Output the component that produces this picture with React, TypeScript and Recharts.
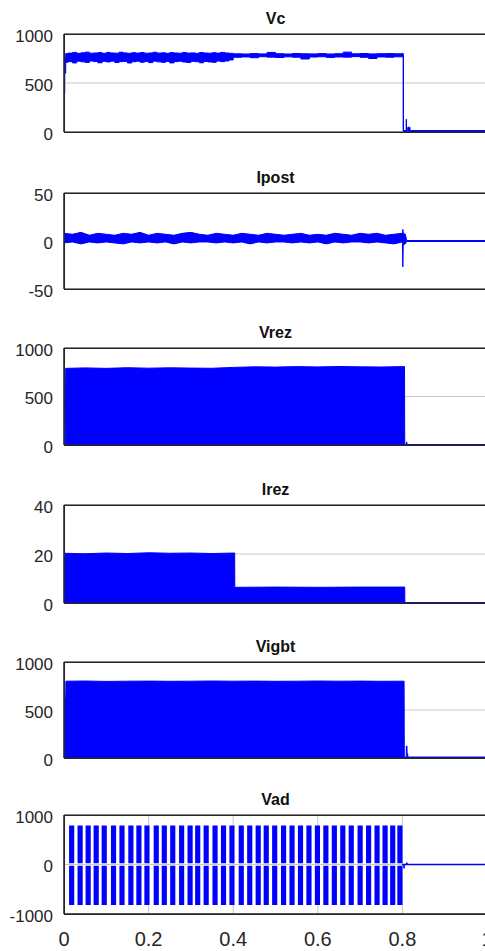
import React from "react";
import { ComposedChart, Area, Line, XAxis, YAxis, CartesianGrid } from "recharts";

const BLUE = "#0000ff";
const AXIS = "#262626";
const TXT = "#262626";
const GRID = "#c8c8c8";

const PLOT_L = 64;
const PLOT_W = 423;
const CHART_W = 500;

const xTicks = [0, 0.2, 0.4, 0.6, 0.8, 1];

// Vc — band (low / high)
const vcT = [
  0, 0.0015, 0.004,
  0.01, 0.02, 0.03, 0.04, 0.05, 0.06, 0.07, 0.08, 0.09, 0.1,
  0.11, 0.12, 0.13, 0.14, 0.15, 0.16, 0.17, 0.18, 0.19, 0.2,
  0.21, 0.22, 0.23, 0.24, 0.25, 0.26, 0.27, 0.28, 0.29, 0.3,
  0.31, 0.32, 0.33, 0.34, 0.35, 0.36, 0.37, 0.38, 0.39,
  0.4, 0.42, 0.44, 0.46, 0.48, 0.5, 0.52, 0.54, 0.56, 0.58, 0.6,
  0.62, 0.64, 0.66, 0.68, 0.7, 0.72, 0.74, 0.76, 0.78, 0.8,
  0.801, 0.8018, 0.8025, 0.8085, 0.809, 0.8095, 0.812, 0.8125, 0.8175, 0.818, 1,
];
const vcLo = [
  390, 600, 712,
  718, 705, 722, 716, 710, 724, 719, 706, 721, 715,
  723, 709, 718, 720, 704, 717, 722, 712, 719, 708,
  723, 716, 711, 720, 705, 718, 722, 714, 709, 721,
  717, 706, 720, 715, 711, 724, 718, 725, 735,
  762, 766, 758, 768, 764, 760, 767, 763, 745, 765, 768,
  761, 766, 764, 769, 762, 750, 766, 763, 767, 768,
  766, 8, 5, 5, 5, 5, 5, 5, 5, 5, 5,
];
const vcHi = [
  400, 760, 800,
  805, 812, 803, 808, 815, 804, 806, 810, 803, 812,
  806, 804, 814, 807, 803, 809, 805, 811, 804, 806,
  813, 805, 808, 803, 810, 806, 804, 812, 805, 807,
  803, 811, 806, 804, 809, 805, 812, 806, 803,
  798, 796, 800, 797, 812, 799, 796, 801, 798, 797, 800,
  796, 799, 815, 798, 801, 797, 799, 800, 798, 805,
  800, 790, 15, 15, 130, 15, 15, 48, 48, 15, 15,
];

// Ipost — band around zero
const ipT = [
  0, 0.02, 0.04, 0.06, 0.08, 0.1, 0.12, 0.14, 0.16, 0.18, 0.2,
  0.22, 0.24, 0.26, 0.28, 0.3, 0.32, 0.34, 0.36, 0.38, 0.4,
  0.42, 0.44, 0.46, 0.48, 0.5, 0.52, 0.54, 0.56, 0.58, 0.6,
  0.62, 0.64, 0.66, 0.68, 0.7, 0.72, 0.74, 0.76, 0.78, 0.8,
  0.801, 0.802, 0.807, 0.81, 1,
];
const ipLo = [
  -2, -1, -3, -1, -2, -1, -2, -3, -1, -2, -1,
  -2, -1, -3, -1, -2, -1, -1, -2, -1, -2,
  -1, -3, -1, -2, -1, -1, -2, -1, -2, -1,
  -3, -1, -2, -1, -1, -2, -1, -2, -3, -1,
  -27, -4, -3, -0.5, -0.5,
];
const ipHi = [
  8, 7, 9, 6, 8, 7, 6, 8, 7, 9, 6,
  8, 7, 6, 8, 9, 7, 6, 8, 7, 6,
  8, 7, 6, 8, 7, 6, 7, 8, 6, 7,
  6, 8, 7, 6, 8, 7, 8, 6, 7, 8,
  12, 8, 7, 0.5, 0.5,
];

// Vrez — filled envelope
const vrT = [0, 0.003, 0.004, 0.05, 0.1, 0.15, 0.2, 0.25, 0.3, 0.35, 0.4, 0.45, 0.5, 0.55, 0.6, 0.65, 0.7, 0.75, 0.805, 0.8055, 0.809, 0.8095, 0.8105, 0.811, 1];
const vrHi = [0, 0, 790, 795, 790, 797, 792, 796, 793, 791, 800, 806, 803, 808, 805, 809, 806, 804, 808, 5, 5, 30, 30, 5, 5];

// Irez — filled envelope
const irT = [0, 0.05, 0.1, 0.15, 0.2, 0.25, 0.3, 0.35, 0.4035, 0.4038, 0.5, 0.6, 0.7, 0.8055, 0.8058, 1];
const irHi = [20.3, 20.1, 20.4, 20.2, 20.5, 20.3, 20.4, 20.2, 20.4, 6.4, 6.5, 6.4, 6.5, 6.5, 0.2, 0.2];

// Vigbt — filled envelope
const vgT = [0, 0.004, 0.0045, 0.05, 0.1, 0.15, 0.2, 0.25, 0.3, 0.35, 0.4, 0.45, 0.5, 0.55, 0.6, 0.65, 0.7, 0.75, 0.804, 0.8045, 0.809, 0.8093, 0.8108, 0.8111, 0.8125, 0.8128, 1];
const vgHi = [620, 620, 800, 802, 798, 800, 801, 799, 800, 802, 800, 801, 799, 800, 802, 800, 801, 799, 800, 10, 10, 125, 125, 45, 45, 10, 10];

// Vad — pulse windows (start times), pulse width and levels
const vadStarts = [
  0.012, 0.032, 0.051, 0.07, 0.089, 0.111, 0.131, 0.152, 0.171, 0.19,
  0.212, 0.231, 0.251, 0.272, 0.292, 0.31, 0.33, 0.351, 0.371, 0.391,
  0.413, 0.433, 0.453, 0.472, 0.492, 0.513, 0.533, 0.553, 0.573, 0.593,
  0.613, 0.633, 0.653, 0.673, 0.694, 0.714, 0.734, 0.753, 0.771, 0.788,
];
const vadWidth = 0.0122;
const vadHigh = 790;
const vadLow = -820;
const vadTailT = [0.799, 0.8035, 0.804, 0.8045, 0.81, 0.8105, 0.811, 1];
const vadTailV = [0, 0, -80, 0, 0, 40, 0, 0];

const band = (t: number[], lo: number[], hi: number[]) => t.map((x, i) => ({ t: x, v: [lo[i], hi[i]] }));
const pts = (t: number[], v: number[]) => t.map((x, i) => ({ t: x, v: v[i] }));
const pulses = (level: number) =>
  vadStarts.flatMap((s) => [
    { t: s, v: level },
    { t: s + vadWidth, v: level },
    { t: s + vadWidth + 0.0001, v: null },
  ]);

const areaProps = {
  dataKey: "v",
  type: "linear" as const,
  stroke: BLUE,
  strokeWidth: 1,
  fill: BLUE,
  fillOpacity: 1,
  isAnimationActive: false,
  dot: false,
  activeDot: false,
};

interface PanelProps {
  title: string;
  top: number;
  height: number;
  domain: [number, number];
  ticks: number[];
  last?: boolean;
  series: React.ReactNode[];
}

function Panel({ title, top, height, domain, ticks, last, series }: PanelProps) {
  const mt = 12;
  const mb = last ? 0 : 12;
  const xh = last ? 40 : 0;
  const xCommon = { type: "number" as const, domain: [0, 1], ticks: xTicks, allowDataOverflow: true, interval: 0 as const };
  const yCommon = { type: "number" as const, domain, ticks, allowDataOverflow: true, interval: 0 as const };
  return (
    <>
      <div
        style={{
          position: "absolute",
          left: PLOT_L,
          width: PLOT_W,
          top: top - 23.5,
          textAlign: "center",
          fontWeight: "bold",
          fontSize: 16,
          lineHeight: "16px",
          color: "#111",
        }}
      >
        {title}
      </div>
      <div style={{ position: "absolute", left: 0, top: top - mt }}>
        <ComposedChart
          width={CHART_W}
          height={mt + height + mb + xh}
          margin={{ top: mt, right: CHART_W - PLOT_L - PLOT_W, bottom: mb, left: 0 }}
        >
          <CartesianGrid stroke={GRID} />
          {last ? (
            <XAxis
              dataKey="t"
              {...xCommon}
              height={40}
              tickLine={false}
              tickSize={8}
              tickMargin={10}
              stroke={AXIS}
              tick={{ fontSize: 20, fill: TXT }}
            />
          ) : (
            <XAxis dataKey="t" {...xCommon} mirror tick={false} tickSize={4} stroke={AXIS} />
          )}
          {last && <XAxis xAxisId="bm" {...xCommon} mirror tick={false} tickSize={4} stroke={AXIS} />}
          <XAxis xAxisId="top" orientation="top" {...xCommon} mirror tick={false} tickSize={4} stroke={AXIS} />
          <YAxis
            {...yCommon}
            width={PLOT_L}
            tickLine={false}
            tickSize={6}
            tickMargin={5}
            stroke={AXIS}
            tick={{ fontSize: 17, fill: TXT, dy: 1.5 }}
          />
          <YAxis yAxisId="lm" {...yCommon} mirror tick={false} tickSize={4} stroke={AXIS} />
          <YAxis yAxisId="rm" orientation="right" {...yCommon} mirror tick={false} tickSize={4} stroke={AXIS} />
          {series}
        </ComposedChart>
      </div>
      {/* plot box border */}
      <div
        style={{
          position: "absolute",
          left: PLOT_L - 0.5,
          top: top - 0.5,
          width: PLOT_W + 1,
          height: height + 1,
          border: `1px solid ${AXIS}`,
          boxSizing: "border-box",
          pointerEvents: "none",
        }}
      />
    </>
  );
}

export default function App() {
  return (
    <div
      style={{
        position: "absolute",
        left: 0,
        top: 0,
        width: 485,
        height: 951,
        overflow: "hidden",
        background: "#fff",
        fontFamily: "'Liberation Sans', Arial, sans-serif",
      }}
    >
      <Panel
        title="Vc"
        top={34}
        height={98}
        domain={[0, 1000]}
        ticks={[0, 500, 1000]}
        series={[<Area key="vc" {...areaProps} type="stepAfter" data={band(vcT, vcLo, vcHi)} />]}
      />
      <Panel
        title="Ipost"
        top={193}
        height={96}
        domain={[-50, 50]}
        ticks={[-50, 0, 50]}
        series={[<Area key="ip" {...areaProps} data={band(ipT, ipLo, ipHi)} />]}
      />
      <Panel
        title="Vrez"
        top={348}
        height={97}
        domain={[0, 1000]}
        ticks={[0, 500, 1000]}
        series={[<Area key="vr" {...areaProps} baseValue={0} data={pts(vrT, vrHi)} />]}
      />
      <Panel
        title="Irez"
        top={505}
        height={98}
        domain={[0, 40]}
        ticks={[0, 20, 40]}
        series={[<Area key="ir" {...areaProps} baseValue={0} data={pts(irT, irHi)} />]}
      />
      <Panel
        title="Vigbt"
        top={662}
        height={96}
        domain={[0, 1000]}
        ticks={[0, 500, 1000]}
        series={[<Area key="vg" {...areaProps} baseValue={0} data={pts(vgT, vgHi)} />]}
      />
      <Panel
        title="Vad"
        top={815}
        height={99}
        domain={[-1000, 1000]}
        ticks={[-1000, 0, 1000]}
        last
        series={[
          <Area key="vp" {...areaProps} stroke="none" baseValue={25} data={pulses(vadHigh)} />,
          <Area key="vn" {...areaProps} stroke="none" baseValue={-25} data={pulses(vadLow)} />,
          <Line
            key="vt"
            data={pts(vadTailT, vadTailV)}
            dataKey="v"
            type="linear"
            stroke={BLUE}
            strokeWidth={1.5}
            dot={false}
            activeDot={false}
            isAnimationActive={false}
          />,
        ]}
      />
    </div>
  );
}
